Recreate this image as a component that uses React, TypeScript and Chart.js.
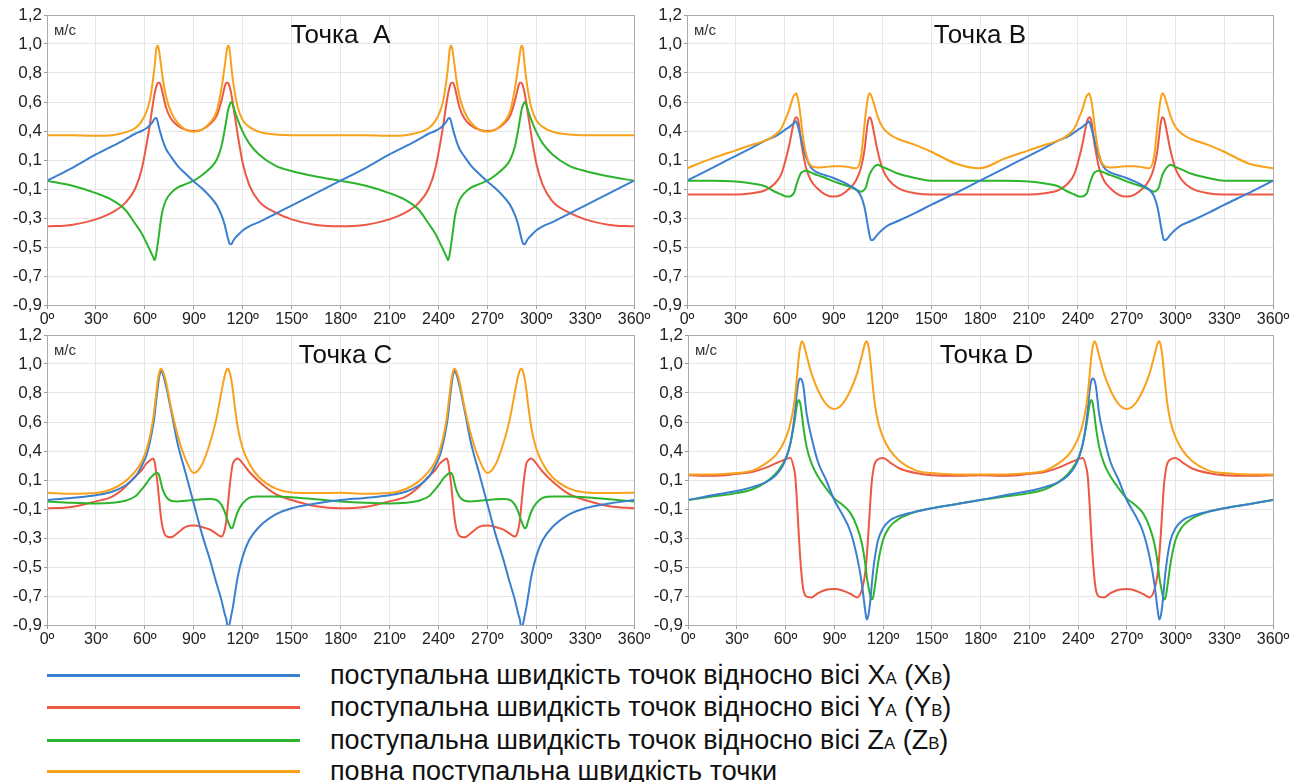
import React, { useEffect, useRef } from 'react';
import { Chart, registerables } from 'chart.js';

Chart.register(...registerables);

const FONT = '"Liberation Sans", Arial, sans-serif';

const ANGLES = [
  0, 15, 30, 40, 48, 54, 58, 61, 63, 65, 66, 67, 68, 69, 70, 71, 73, 76, 80, 85, 90, 95, 100, 104, 107, 109, 110, 111, 112, 113, 114, 115, 117, 120, 124, 130, 140, 150, 165,
  180, 195, 210, 220, 228, 234, 238, 241, 243, 245, 246, 247, 248, 249, 250, 251, 253, 256, 260, 265, 270, 275, 280, 284, 287, 289, 290, 291, 292, 293, 294, 295, 297, 300, 304, 310, 320, 330, 345,
  360,
];

const Y_TICK_VALUES = [-0.9, -0.69, -0.48, -0.27, -0.06, 0.15, 0.36, 0.57, 0.78, 0.99, 1.2];
const Y_TICK_LABELS = ['-0,9', '-0,7', '-0,5', '-0,3', '-0,1', '0,1', '0,4', '0,6', '0,8', '1,0', '1,2'];

// Точка A
const A_X = [
  0.00, 0.09, 0.19, 0.25, 0.30, 0.34, 0.36, 0.38, 0.40, 0.43, 0.45, 0.455, 0.42, 0.37, 0.33, 0.29, 0.23, 0.175, 0.11, 0.05, -0.005, -0.055, -0.115, -0.175, -0.25, -0.32, -0.37, -0.42, -0.455, -0.46, -0.44, -0.42, -0.395, -0.36, -0.33, -0.30, -0.24, -0.18, -0.09,
  0.00, 0.09, 0.19, 0.25, 0.30, 0.34, 0.36, 0.38, 0.40, 0.43, 0.45, 0.455, 0.42, 0.37, 0.33, 0.29, 0.23, 0.175, 0.11, 0.05, -0.005, -0.055, -0.115, -0.175, -0.25, -0.32, -0.37, -0.42, -0.455, -0.46, -0.44, -0.42, -0.395, -0.36, -0.33, -0.30, -0.24, -0.18, -0.09,
  0.00,
];
const A_Y = [
  -0.33, -0.32, -0.28, -0.23, -0.16, -0.06, 0.08, 0.26, 0.40, 0.56, 0.63, 0.68, 0.71, 0.71, 0.68, 0.63, 0.53, 0.45, 0.40, 0.37, 0.36, 0.37, 0.41, 0.47, 0.58, 0.68, 0.71, 0.71, 0.68, 0.63, 0.56, 0.48, 0.33, 0.13, -0.03, -0.15, -0.23, -0.28, -0.32,
  -0.33, -0.32, -0.28, -0.23, -0.16, -0.06, 0.08, 0.26, 0.40, 0.56, 0.63, 0.68, 0.71, 0.71, 0.68, 0.63, 0.53, 0.45, 0.40, 0.37, 0.36, 0.37, 0.41, 0.47, 0.58, 0.68, 0.71, 0.71, 0.68, 0.63, 0.56, 0.48, 0.33, 0.13, -0.03, -0.15, -0.23, -0.28, -0.32,
  -0.33,
];
const A_Z = [
  0.00, -0.035, -0.09, -0.14, -0.21, -0.31, -0.38, -0.45, -0.50, -0.55, -0.575, -0.53, -0.45, -0.36, -0.27, -0.21, -0.14, -0.09, -0.05, -0.025, 0.00, 0.04, 0.09, 0.15, 0.25, 0.37, 0.44, 0.51, 0.55, 0.57, 0.55, 0.51, 0.44, 0.355, 0.27, 0.19, 0.11, 0.07, 0.03,
  0.00, -0.035, -0.09, -0.14, -0.21, -0.31, -0.38, -0.45, -0.50, -0.55, -0.575, -0.53, -0.45, -0.36, -0.27, -0.21, -0.14, -0.09, -0.05, -0.025, 0.00, 0.04, 0.09, 0.15, 0.25, 0.37, 0.44, 0.51, 0.55, 0.57, 0.55, 0.51, 0.44, 0.355, 0.27, 0.19, 0.11, 0.07, 0.03,
  0.00,
];
const A_V = [
  0.33, 0.33, 0.325, 0.33, 0.35, 0.38, 0.43, 0.50, 0.58, 0.73, 0.83, 0.95, 0.98, 0.92, 0.83, 0.74, 0.61, 0.50, 0.42, 0.37, 0.355, 0.37, 0.42, 0.50, 0.67, 0.83, 0.92, 0.98, 0.95, 0.83, 0.73, 0.65, 0.53, 0.44, 0.39, 0.355, 0.335, 0.33, 0.33,
  0.33, 0.33, 0.325, 0.33, 0.35, 0.38, 0.43, 0.50, 0.58, 0.73, 0.83, 0.95, 0.98, 0.92, 0.83, 0.74, 0.61, 0.50, 0.42, 0.37, 0.355, 0.37, 0.42, 0.50, 0.67, 0.83, 0.92, 0.98, 0.95, 0.83, 0.73, 0.65, 0.53, 0.44, 0.39, 0.355, 0.335, 0.33, 0.33,
  0.33,
];

// Точка B
const B_X = [
  0.00, 0.09, 0.18, 0.24, 0.29, 0.32, 0.35, 0.375, 0.39, 0.41, 0.42, 0.43, 0.40, 0.355, 0.31, 0.26, 0.175, 0.097, 0.06, 0.04, 0.02, -0.005, -0.035, -0.065, -0.115, -0.19, -0.25, -0.32, -0.385, -0.43, -0.43, -0.42, -0.39, -0.355, -0.32, -0.29, -0.235, -0.175, -0.09,
  0.00, 0.09, 0.18, 0.24, 0.29, 0.32, 0.35, 0.375, 0.39, 0.41, 0.42, 0.43, 0.40, 0.355, 0.31, 0.26, 0.175, 0.097, 0.06, 0.04, 0.02, -0.005, -0.035, -0.065, -0.115, -0.19, -0.25, -0.32, -0.385, -0.43, -0.43, -0.42, -0.39, -0.355, -0.32, -0.29, -0.235, -0.175, -0.09,
  0.00,
];
const B_Y = [
  -0.10, -0.10, -0.10, -0.09, -0.07, -0.02, 0.05, 0.17, 0.27, 0.39, 0.44, 0.46, 0.45, 0.39, 0.29, 0.22, 0.10, 0.005, -0.055, -0.10, -0.115, -0.10, -0.055, 0.005, 0.10, 0.22, 0.32, 0.415, 0.46, 0.45, 0.40, 0.34, 0.22, 0.09, 0.005, -0.055, -0.09, -0.10, -0.10,
  -0.10, -0.10, -0.10, -0.09, -0.07, -0.02, 0.05, 0.17, 0.27, 0.39, 0.44, 0.46, 0.45, 0.39, 0.29, 0.22, 0.10, 0.005, -0.055, -0.10, -0.115, -0.10, -0.055, 0.005, 0.10, 0.22, 0.32, 0.415, 0.46, 0.45, 0.40, 0.34, 0.22, 0.09, 0.005, -0.055, -0.09, -0.10, -0.10,
  -0.10,
];
const B_Z = [
  0.00, 0.00, -0.005, -0.02, -0.04, -0.08, -0.10, -0.115, -0.115, -0.10, -0.08, -0.04, 0.00, 0.03, 0.055, 0.065, 0.073, 0.06, 0.04, 0.02, -0.005, -0.025, -0.045, -0.065, -0.08, -0.065, -0.045, 0.00, 0.04, 0.065, 0.085, 0.10, 0.115, 0.10, 0.08, 0.05, 0.02, 0.00, 0.00,
  0.00, 0.00, -0.005, -0.02, -0.04, -0.08, -0.10, -0.115, -0.115, -0.10, -0.08, -0.04, 0.00, 0.03, 0.055, 0.065, 0.073, 0.06, 0.04, 0.02, -0.005, -0.025, -0.045, -0.065, -0.08, -0.065, -0.045, 0.00, 0.04, 0.065, 0.085, 0.10, 0.115, 0.10, 0.08, 0.05, 0.02, 0.00, 0.00,
  0.00,
];
const B_V = [
  0.09, 0.16, 0.22, 0.26, 0.29, 0.33, 0.38, 0.46, 0.52, 0.60, 0.62, 0.633, 0.60, 0.535, 0.44, 0.34, 0.20, 0.11, 0.095, 0.10, 0.105, 0.105, 0.097, 0.09, 0.18, 0.40, 0.51, 0.59, 0.633, 0.62, 0.59, 0.55, 0.47, 0.39, 0.34, 0.30, 0.26, 0.21, 0.125,
  0.09, 0.16, 0.22, 0.26, 0.29, 0.33, 0.38, 0.46, 0.52, 0.60, 0.62, 0.633, 0.60, 0.535, 0.44, 0.34, 0.20, 0.11, 0.095, 0.10, 0.105, 0.105, 0.097, 0.09, 0.18, 0.40, 0.51, 0.59, 0.633, 0.62, 0.59, 0.55, 0.47, 0.39, 0.34, 0.30, 0.26, 0.21, 0.125,
  0.09,
];

// Точка C
const C_X = [
  0.005, 0.02, 0.04, 0.065, 0.11, 0.17, 0.25, 0.33, 0.42, 0.54, 0.62, 0.73, 0.83, 0.91, 0.94, 0.92, 0.83, 0.66, 0.42, 0.20, -0.02, -0.24, -0.43, -0.60, -0.72, -0.82, -0.86, -0.93, -0.89, -0.83, -0.77, -0.695, -0.55, -0.405, -0.285, -0.19, -0.10, -0.055, -0.02,
  0.005, 0.02, 0.04, 0.065, 0.11, 0.17, 0.25, 0.33, 0.42, 0.54, 0.62, 0.73, 0.83, 0.91, 0.94, 0.92, 0.83, 0.66, 0.42, 0.20, -0.02, -0.24, -0.43, -0.60, -0.72, -0.82, -0.86, -0.93, -0.89, -0.83, -0.77, -0.695, -0.55, -0.405, -0.285, -0.19, -0.10, -0.055, -0.02,
  0.005,
];
const C_Y = [
  -0.055, -0.045, -0.005, 0.03, 0.10, 0.175, 0.22, 0.27, 0.29, 0.305, 0.28, 0.20, 0.10, -0.02, -0.13, -0.20, -0.255, -0.265, -0.235, -0.19, -0.18, -0.19, -0.21, -0.24, -0.26, -0.21, -0.14, -0.02, 0.10, 0.20, 0.27, 0.29, 0.305, 0.27, 0.21, 0.14, 0.05, 0.005, -0.04,
  -0.055, -0.045, -0.005, 0.03, 0.10, 0.175, 0.22, 0.27, 0.29, 0.305, 0.28, 0.20, 0.10, -0.02, -0.13, -0.20, -0.255, -0.265, -0.235, -0.19, -0.18, -0.19, -0.21, -0.24, -0.26, -0.21, -0.14, -0.02, 0.10, 0.20, 0.27, 0.29, 0.305, 0.27, 0.21, 0.14, 0.05, 0.005, -0.04,
  -0.055,
];
const C_Z = [
  -0.005, -0.015, -0.02, -0.015, 0.00, 0.03, 0.08, 0.125, 0.16, 0.185, 0.195, 0.20, 0.20, 0.175, 0.125, 0.08, 0.03, 0.00, -0.005, 0.00, 0.005, 0.01, 0.012, 0.005, -0.03, -0.08, -0.115, -0.15, -0.18, -0.20, -0.19, -0.15, -0.08, -0.02, 0.02, 0.03, 0.03, 0.025, 0.01,
  -0.005, -0.015, -0.02, -0.015, 0.00, 0.03, 0.08, 0.125, 0.16, 0.185, 0.195, 0.20, 0.20, 0.175, 0.125, 0.08, 0.03, 0.00, -0.005, 0.00, 0.005, 0.01, 0.012, 0.005, -0.03, -0.08, -0.115, -0.15, -0.18, -0.20, -0.19, -0.15, -0.08, -0.02, 0.02, 0.03, 0.03, 0.025, 0.01,
  -0.005,
];
const C_V = [
  0.058, 0.05, 0.055, 0.085, 0.14, 0.21, 0.28, 0.37, 0.46, 0.585, 0.68, 0.78, 0.875, 0.935, 0.955, 0.94, 0.86, 0.68, 0.48, 0.30, 0.20, 0.26, 0.42, 0.60, 0.79, 0.905, 0.945, 0.955, 0.93, 0.88, 0.80, 0.70, 0.53, 0.38, 0.27, 0.17, 0.09, 0.06, 0.055,
  0.058, 0.05, 0.055, 0.085, 0.14, 0.21, 0.28, 0.37, 0.46, 0.585, 0.68, 0.78, 0.875, 0.935, 0.955, 0.94, 0.86, 0.68, 0.48, 0.30, 0.20, 0.26, 0.42, 0.60, 0.79, 0.905, 0.945, 0.955, 0.93, 0.88, 0.80, 0.70, 0.53, 0.38, 0.27, 0.17, 0.09, 0.06, 0.055,
  0.058,
];

// Точка D
const D_X = [
  0.005, 0.04, 0.07, 0.10, 0.135, 0.185, 0.245, 0.33, 0.415, 0.56, 0.66, 0.78, 0.86, 0.885, 0.875, 0.83, 0.63, 0.46, 0.28, 0.15, 0.005, -0.10, -0.225, -0.405, -0.60, -0.79, -0.86, -0.83, -0.745, -0.62, -0.50, -0.41, -0.285, -0.20, -0.145, -0.11, -0.08, -0.055, -0.025,
  0.005, 0.04, 0.07, 0.10, 0.135, 0.185, 0.245, 0.33, 0.415, 0.56, 0.66, 0.78, 0.86, 0.885, 0.875, 0.83, 0.63, 0.46, 0.28, 0.15, 0.005, -0.10, -0.225, -0.405, -0.60, -0.79, -0.86, -0.83, -0.745, -0.62, -0.50, -0.41, -0.285, -0.20, -0.145, -0.11, -0.08, -0.055, -0.025,
  0.005,
];
const D_Y = [
  0.185, 0.18, 0.195, 0.21, 0.24, 0.27, 0.29, 0.305, 0.31, 0.245, 0.175, 0.005, -0.21, -0.405, -0.55, -0.645, -0.695, -0.70, -0.67, -0.645, -0.64, -0.65, -0.675, -0.70, -0.645, -0.525, -0.405, -0.235, -0.045, 0.125, 0.22, 0.27, 0.30, 0.31, 0.28, 0.235, 0.20, 0.185, 0.18,
  0.185, 0.18, 0.195, 0.21, 0.24, 0.27, 0.29, 0.305, 0.31, 0.245, 0.175, 0.005, -0.21, -0.405, -0.55, -0.645, -0.695, -0.70, -0.67, -0.645, -0.64, -0.65, -0.675, -0.70, -0.645, -0.525, -0.405, -0.235, -0.045, 0.125, 0.22, 0.27, 0.30, 0.31, 0.28, 0.235, 0.20, 0.185, 0.18,
  0.185,
];
const D_Z = [
  0.005, 0.03, 0.055, 0.085, 0.135, 0.195, 0.26, 0.33, 0.415, 0.535, 0.61, 0.69, 0.73, 0.71, 0.63, 0.535, 0.39, 0.27, 0.175, 0.09, 0.017, -0.03, -0.09, -0.19, -0.31, -0.45, -0.55, -0.62, -0.68, -0.715, -0.695, -0.62, -0.45, -0.285, -0.19, -0.13, -0.08, -0.055, -0.025,
  0.005, 0.03, 0.055, 0.085, 0.135, 0.195, 0.26, 0.33, 0.415, 0.535, 0.61, 0.69, 0.73, 0.71, 0.63, 0.535, 0.39, 0.27, 0.175, 0.09, 0.017, -0.03, -0.09, -0.19, -0.31, -0.45, -0.55, -0.62, -0.68, -0.715, -0.695, -0.62, -0.45, -0.285, -0.19, -0.13, -0.08, -0.055, -0.025,
  0.005,
];
const D_V = [
  0.19, 0.19, 0.20, 0.22, 0.27, 0.33, 0.40, 0.48, 0.56, 0.68, 0.77, 0.89, 1.02, 1.11, 1.155, 1.14, 1.05, 0.92, 0.80, 0.70, 0.665, 0.70, 0.80, 0.92, 1.05, 1.14, 1.155, 1.12, 1.04, 0.92, 0.80, 0.70, 0.57, 0.46, 0.37, 0.29, 0.22, 0.20, 0.19,
  0.19, 0.19, 0.20, 0.22, 0.27, 0.33, 0.40, 0.48, 0.56, 0.68, 0.77, 0.89, 1.02, 1.11, 1.155, 1.14, 1.05, 0.92, 0.80, 0.70, 0.665, 0.70, 0.80, 0.92, 1.05, 1.14, 1.155, 1.12, 1.04, 0.92, 0.80, 0.70, 0.57, 0.46, 0.37, 0.29, 0.22, 0.20, 0.19,
  0.19,
];

const COLOR_X = '#3b7fd0';
const COLOR_Y = '#ec5843';
const COLOR_Z = '#2db42d';
const COLOR_V = '#f8a21c';

const decorPlugin = {
  id: 'panelDecor',
  afterDraw(chart: any, _args: any, opts: any) {
    const { ctx, chartArea: a } = chart;
    ctx.save();
    ctx.strokeStyle = '#acacac';
    ctx.lineWidth = 1;
    ctx.strokeRect(Math.round(a.left) + 0.5, Math.round(a.top) + 0.5, Math.round(a.right - a.left), Math.round(a.bottom - a.top));
    ctx.fillStyle = '#111';
    ctx.font = `26px ${FONT}`;
    ctx.textAlign = 'center';
    ctx.textBaseline = 'alphabetic';
    ctx.fillText(opts.title, (a.left + a.right) / 2 + (opts.dx || 0), a.top + 28);
    ctx.font = `15px ${FONT}`;
    ctx.fillStyle = '#333';
    ctx.textAlign = 'left';
    ctx.fillText('м/с', a.left + 7, a.top + 20);
    ctx.restore();
  },
};

type PanelProps = {
  title: string;
  dx: number;
  xs: number[];
  ys: number[];
  zs: number[];
  vs: number[];
  left: number;
  top: number;
  width: number;
  height: number;
  padRight: number;
};

function Panel(p: PanelProps) {
  const ref = useRef<HTMLCanvasElement | null>(null);
  useEffect(() => {
    if (!ref.current) return;
    const mk = (vals: number[], color: string, label: string) => ({
      label,
      data: ANGLES.map((a, i) => ({ x: a, y: vals[i] })),
      borderColor: color,
      backgroundColor: color,
      borderWidth: 2,
      pointRadius: 0,
      fill: false,
      cubicInterpolationMode: 'monotone' as const,
      borderJoinStyle: 'round' as const,
    });
    const chart = new Chart(ref.current, {
      type: 'line',
      data: {
        datasets: [
          mk(p.vs, COLOR_V, 'V'),
          mk(p.xs, COLOR_X, 'X'),
          mk(p.zs, COLOR_Z, 'Z'),
          mk(p.ys, COLOR_Y, 'Y'),
        ],
      },
      options: {
        animation: false,
        responsive: false,
        maintainAspectRatio: false,
        layout: { padding: { top: 15, right: p.padRight, bottom: 0, left: 0 } },
        plugins: {
          legend: { display: false },
          tooltip: { enabled: false },
          panelDecor: { title: p.title, dx: p.dx },
        } as any,
        scales: {
          x: {
            type: 'linear',
            min: 0,
            max: 360,
            afterFit: (s: any) => { s.height = 25; },
            grid: { color: '#e6e6e6', tickLength: 4, tickColor: '#999' },
            border: { color: '#999' },
            ticks: {
              stepSize: 30,
              autoSkip: false,
              maxRotation: 0,
              padding: 1,
              color: '#222',
              font: { family: FONT, size: 16 },
              callback: (v: any) => `${v}º`,
            },
          },
          y: {
            type: 'linear',
            min: -0.9,
            max: 1.2,
            afterFit: (s: any) => { s.width = 47; },
            afterBuildTicks: (s: any) => { s.ticks = Y_TICK_VALUES.map((v) => ({ value: v })); },
            grid: { color: '#e6e6e6', tickLength: 3, tickColor: '#999' },
            border: { color: '#999' },
            ticks: {
              autoSkip: false,
              padding: 2,
              color: '#222',
              font: { family: FONT, size: 17 },
              callback: (_v: any, i: number) => Y_TICK_LABELS[i],
            },
          },
        },
      },
      plugins: [decorPlugin],
    });
    return () => chart.destroy();
  }, []);
  return (
    <canvas
      ref={ref}
      width={p.width}
      height={p.height}
      style={{ position: 'absolute', left: p.left, top: p.top, width: p.width, height: p.height }}
    />
  );
}

const LEGEND_ITEMS = [
  { color: COLOR_X, axis: 'X' },
  { color: COLOR_Y, axis: 'Y' },
  { color: COLOR_Z, axis: 'Z' },
];
const LEGEND_MAIN = 'поступальна швидкість точок відносно вісі ';
const LEGEND_TOTAL = 'повна поступальна швидкість точки';
const LEGEND_Y = [675, 707, 740, 771];

function LegendRow({ y, color, children }: { y: number; color: string; children: React.ReactNode }) {
  return (
    <>
      <div style={{ position: 'absolute', left: 47, top: y - 1.5, width: 253, height: 3, background: color }} />
      <div
        style={{
          position: 'absolute',
          left: 330,
          top: y - 16,
          height: 32,
          lineHeight: '32px',
          fontFamily: FONT,
          fontSize: 27,
          color: '#111',
          whiteSpace: 'nowrap',
        }}
      >
        {children}
      </div>
    </>
  );
}

export default function App() {
  const small = { fontSize: '62%' };
  return (
    <div style={{ position: 'absolute', left: 0, top: 0, width: 1300, height: 782, overflow: 'hidden', background: '#fff' }}>
      <Panel title="Точка  A" dx={0} xs={A_X} ys={A_Y} zs={A_Z} vs={A_V} left={0} top={0} width={680} height={330} padRight={46} />
      <Panel title="Точка B" dx={0} xs={B_X} ys={B_Y} zs={B_Z} vs={B_V} left={640} top={0} width={660} height={330} padRight={27} />
      <Panel title="Точка C" dx={5} xs={C_X} ys={C_Y} zs={C_Z} vs={C_V} left={0} top={320} width={680} height={330} padRight={46} />
      <Panel title="Точка D" dx={6} xs={D_X} ys={D_Y} zs={D_Z} vs={D_V} left={641} top={320} width={659} height={330} padRight={27} />
      {LEGEND_ITEMS.map((it, i) => (
        <LegendRow key={it.axis} y={LEGEND_Y[i]} color={it.color}>
          {LEGEND_MAIN}
          {it.axis}
          <span style={small}>A</span>
          {' ('}
          {it.axis}
          <span style={small}>B</span>
          {')'}
        </LegendRow>
      ))}
      <LegendRow y={LEGEND_Y[3]} color={COLOR_V}>
        {LEGEND_TOTAL}
      </LegendRow>
    </div>
  );
}
